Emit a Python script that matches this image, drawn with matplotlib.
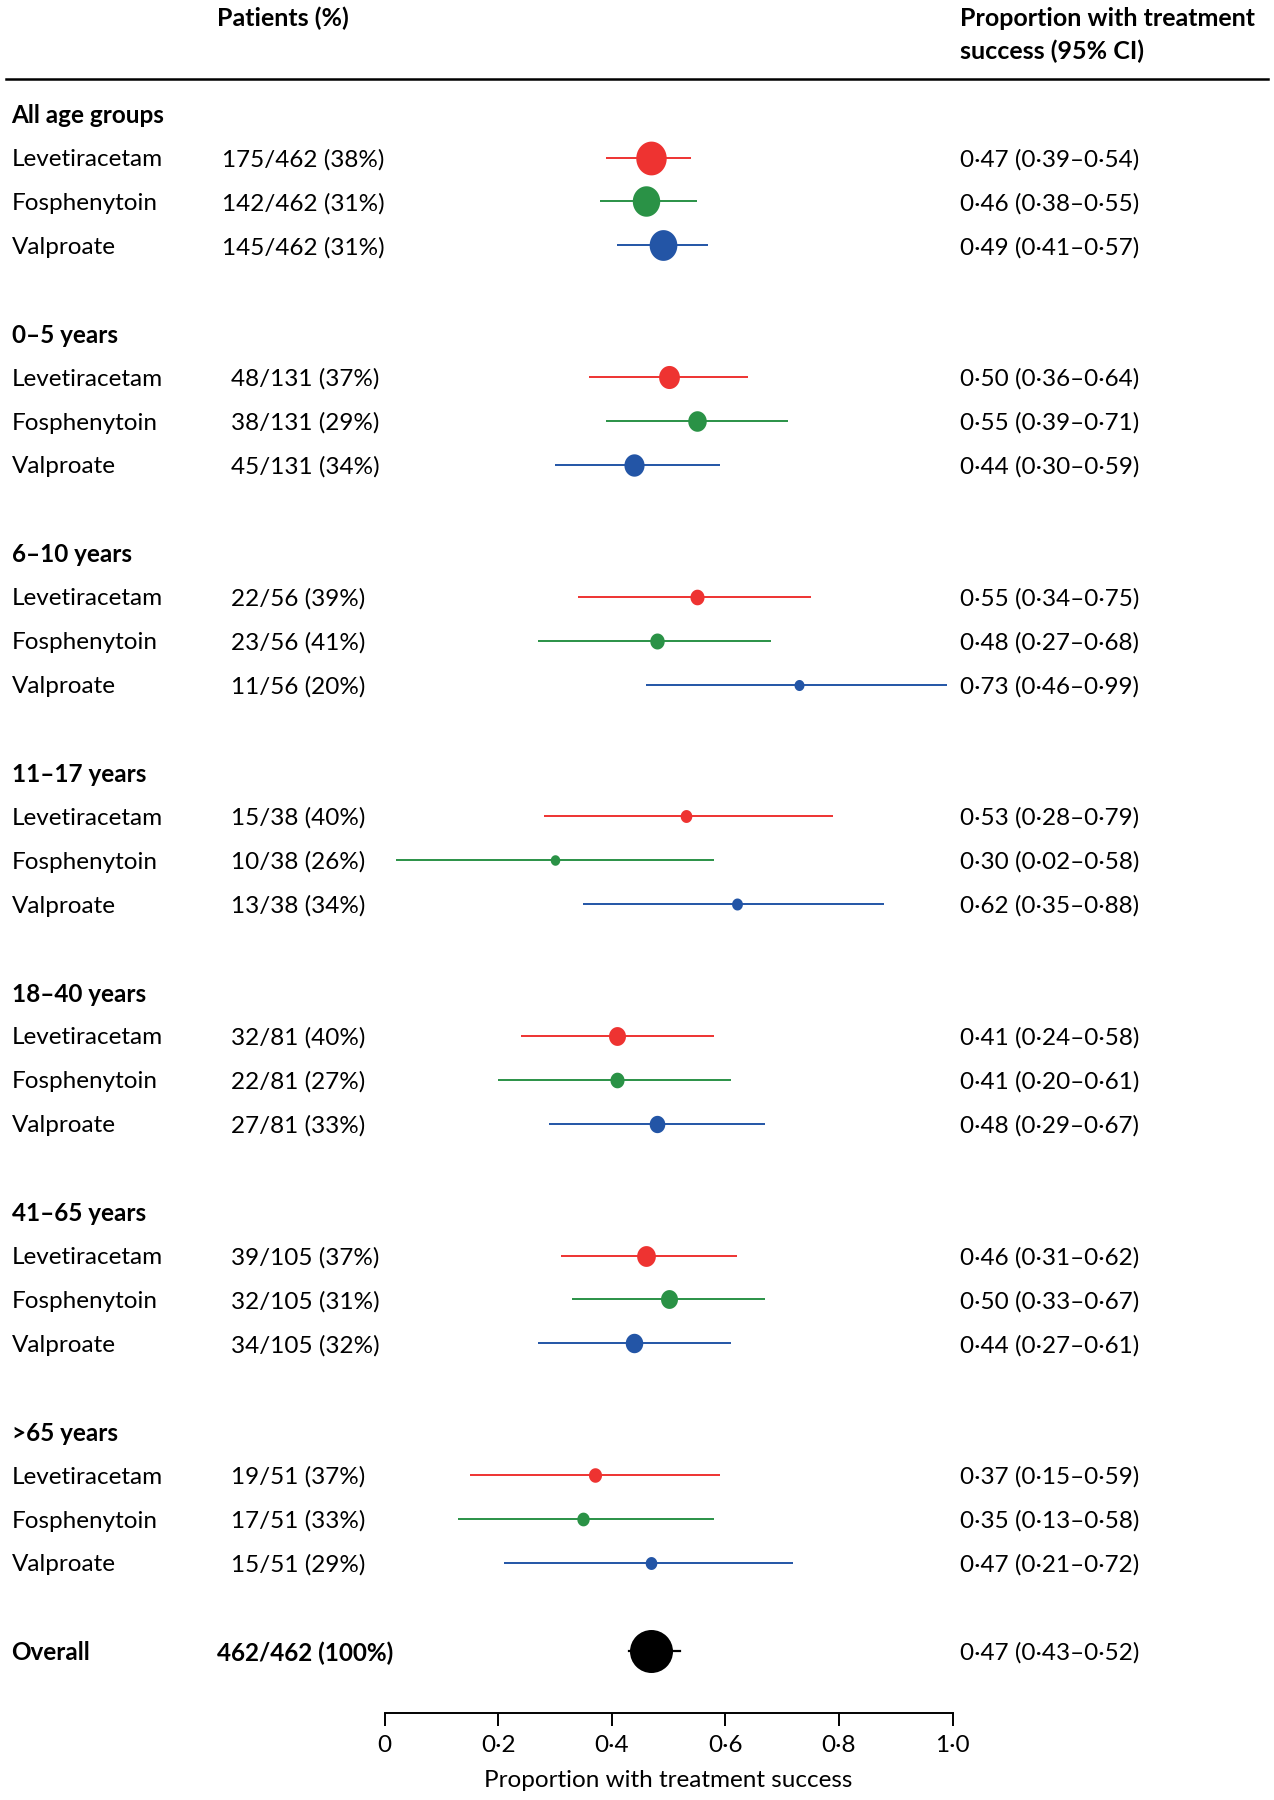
"""Forest plot: proportion with treatment success by age group and drug."""

import numpy as np
import matplotlib

matplotlib.use("Agg")
import matplotlib.pyplot as plt
import matplotlib.transforms as mtransforms
from matplotlib.lines import Line2D
from matplotlib.path import Path

plt.rcParams["font.family"] = ["Lato", "DejaVu Sans"]

# ── data ─────────────────────────────────────────────────────────────────────
groups = ["All age groups", "0–5 years", "6–10 years", "11–17 years",
          "18–40 years", "41–65 years", ">65 years"]
drugs = ["Levetiracetam", "Fosphenytoin", "Valproate"]
group_totals = [462, 131, 56, 38, 81, 105, 51]

patients = [
    [175, 142, 145],
    [48, 38, 45],
    [22, 23, 11],
    [15, 10, 13],
    [32, 22, 27],
    [39, 32, 34],
    [19, 17, 15],
]
patients_pct = [
    [38, 31, 31],
    [37, 29, 34],
    [39, 41, 20],
    [40, 26, 34],
    [40, 27, 33],
    [37, 31, 32],
    [37, 33, 29],
]
success = [
    [0.47, 0.46, 0.49],
    [0.50, 0.55, 0.44],
    [0.55, 0.48, 0.73],
    [0.53, 0.30, 0.62],
    [0.41, 0.41, 0.48],
    [0.46, 0.50, 0.44],
    [0.37, 0.35, 0.47],
]
ci_low = [
    [0.39, 0.38, 0.41],
    [0.36, 0.39, 0.30],
    [0.34, 0.27, 0.46],
    [0.28, 0.02, 0.35],
    [0.24, 0.20, 0.29],
    [0.31, 0.33, 0.27],
    [0.15, 0.13, 0.21],
]
ci_high = [
    [0.54, 0.55, 0.57],
    [0.64, 0.71, 0.59],
    [0.75, 0.68, 0.99],
    [0.79, 0.58, 0.88],
    [0.58, 0.61, 0.67],
    [0.62, 0.67, 0.61],
    [0.59, 0.58, 0.72],
]
overall_n = 462
overall_total = 462
overall_pct = 100
overall_success = 0.47
overall_low = 0.43
overall_high = 0.52

x_ticks = [0, 0.2, 0.4, 0.6, 0.8, 1.0]
x_ticklabels = ["0", "0·2", "0·4", "0·6", "0·8", "1·0"]

# ── style ────────────────────────────────────────────────────────────────────
DRUG_COLORS = ["#EE3331", "#2A9246", "#2355A6"]
W, H = 1274, 1800
FS = 17.5
HEAD_FS = 18
ROW0_PX = 113.6      # centre of first group header, px from top
ROW_PX = 43.92       # row pitch
AX_X0, AX_X1 = 384.5, 952.5
AX_BOTTOM = 1712.5
X_LABEL, X_PAT, X_PAT2, X_CI = 11.5, 221.5, 230.7, 959.5

# width in px of marker = k * sqrt(n)
K_SUB, K_ALL, K_OVERALL = 3.0, 2.3, 2.0
ASPECT = 0.9

t = np.linspace(0, 2 * np.pi, 80)
ELLIPSE = Path(np.column_stack([ASPECT * np.cos(t), np.sin(t)]), closed=True)


def fmt(v):
    return f"{v:.2f}".replace(".", "·")


fig = plt.figure(figsize=(W / 100, H / 100), dpi=100)
ax = fig.add_axes([AX_X0 / W, 1 - AX_BOTTOM / H, (AX_X1 - AX_X0) / W, AX_BOTTOM / H])
ax.set_xlim(0, 1)
ax.set_ylim((AX_BOTTOM - ROW0_PX) / ROW_PX, -ROW0_PX / ROW_PX)
ax.patch.set_alpha(0)

txt = mtransforms.blended_transform_factory(fig.transFigure, ax.transData)


def put(xpx, row, s, bold=False, **kw):
    ax.text(xpx / W, row, s, transform=txt, fontsize=FS, va="center_baseline",
            ha="left", fontweight="bold" if bold else "normal", clip_on=False, **kw)


row = 0
for gi, g in enumerate(groups):
    put(X_LABEL, row, g, bold=True)
    row += 1
    k = K_ALL if gi == 0 else K_SUB
    for di, d in enumerate(drugs):
        n = patients[gi][di]
        c = DRUG_COLORS[di]
        ax.plot([ci_low[gi][di], ci_high[gi][di]], [row, row], color=c, lw=1.4,
                solid_capstyle="butt", zorder=2)
        h_px = k * np.sqrt(n) / ASPECT
        ax.plot(success[gi][di], row, marker=ELLIPSE, ms=h_px * 0.72, color=c,
                mew=0, linestyle="none", zorder=3)
        put(X_LABEL, row, d)
        put(X_PAT if n >= 100 else X_PAT2, row,
            f"{n}/{group_totals[gi]} ({patients_pct[gi][di]}%)")
        put(X_CI, row, f"{fmt(success[gi][di])} ({fmt(ci_low[gi][di])}–{fmt(ci_high[gi][di])})")
        row += 1
    row += 1

# overall
ax.plot([overall_low, overall_high], [row, row], color="black", lw=1.6, zorder=2)
ax.plot(overall_success, row, marker="o", ms=K_OVERALL * np.sqrt(overall_n) * 0.72,
        color="black", mew=0, linestyle="none", zorder=3)
put(X_LABEL, row, "Overall", bold=True)
put(217, row, f"{overall_n}/{overall_total} ({overall_pct}%)", bold=True)
put(X_CI, row, f"{fmt(overall_success)} ({fmt(overall_low)}–{fmt(overall_high)})")

# header
fig.text(217 / W, 1 - 16 / H, "Patients (%)", fontsize=HEAD_FS, fontweight="bold",
         ha="left", va="center_baseline")
fig.text(X_CI / W, 1 - 16 / H, "Proportion with treatment", fontsize=HEAD_FS,
         fontweight="bold", ha="left", va="center_baseline")
fig.text(X_CI / W, 1 - 49.4 / H, "success (95% CI)", fontsize=HEAD_FS,
         fontweight="bold", ha="left", va="center_baseline")
fig.add_artist(Line2D([5.7 / W, 1268 / W], [1 - 79.2 / H] * 2,
                      transform=fig.transFigure, color="black", lw=1.8))

# x axis
for side in ["top", "left", "right"]:
    ax.spines[side].set_visible(False)
ax.spines["bottom"].set_linewidth(1.4)
ax.spines["bottom"].set_bounds(0, 1)
ax.set_yticks([])
ax.set_xticks(x_ticks)
ax.set_xticklabels(x_ticklabels)
ax.tick_params(axis="x", length=9, width=1.4, pad=7, labelsize=FS)
ax.set_xlabel("Proportion with treatment success", fontsize=FS, labelpad=10)

fig.savefig("out.png", dpi=100)
